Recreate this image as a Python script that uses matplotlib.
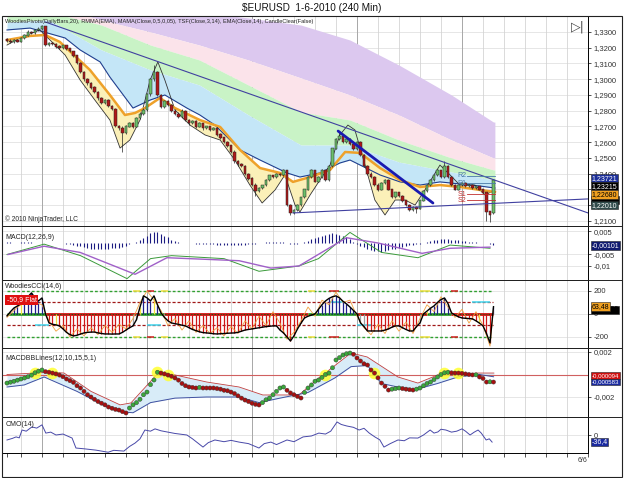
import numpy as np
import matplotlib
matplotlib.use("Agg")
import matplotlib.pyplot as plt
from matplotlib.patches import Rectangle
from matplotlib.lines import Line2D

plt.rcParams['font.family'] = ['Liberation Sans', 'DejaVu Sans']

W, H = 625, 478

# ---------------- price bars, in pips above 1.2000 ----------------
opens = [1252, 1245, 1238, 1250, 1240, 1262, 1278, 1300, 1292, 1312,
         1320, 1335, 1218, 1230, 1222, 1208, 1200, 1214, 1195, 1178,
         1150, 1102, 1045, 1000, 975, 948, 918, 880, 850, 868,
         832, 812, 702, 690, 660, 700, 722, 700, 752, 780,
         805, 905, 1000, 1048, 900, 822, 862, 838, 800, 780,
         760, 800, 742, 720, 732, 700, 722, 690, 700, 680,
         690, 650, 630, 600, 580, 540, 480, 460, 450, 400,
         370, 330, 290, 310, 330, 360, 390, 380, 400, 390,
         420, 200, 150, 170, 200, 250, 300, 380, 420, 350,
         380, 420, 360, 450, 560, 620, 640, 600, 620, 590,
         560, 600, 520, 450, 400, 380, 330, 300, 340, 360,
         300, 250, 280, 260, 230, 200, 170, 190, 180, 230,
         290, 330, 360, 390, 420, 380, 450, 380, 330, 300,
         330, 340, 320, 330, 310, 320, 300, 280, 160, 150]
closes = [1245, 1238, 1250, 1240, 1262, 1278, 1300, 1292, 1312, 1320,
          1335, 1218, 1230, 1222, 1208, 1200, 1214, 1195, 1178, 1150,
          1102, 1045, 1000, 975, 948, 918, 880, 850, 868, 832,
          812, 702, 690, 660, 700, 722, 700, 752, 780, 805,
          905, 1000, 1048, 900, 822, 862, 838, 800, 780, 760,
          800, 742, 720, 732, 700, 722, 690, 700, 680, 690,
          650, 630, 600, 580, 540, 480, 460, 450, 400, 370,
          330, 290, 310, 330, 360, 390, 380, 400, 390, 420,
          200, 150, 170, 200, 250, 300, 380, 420, 350, 380,
          420, 360, 450, 560, 620, 640, 600, 620, 590, 560,
          600, 520, 450, 400, 380, 330, 300, 340, 360, 300,
          250, 280, 260, 230, 200, 170, 190, 180, 230, 290,
          330, 360, 390, 420, 380, 450, 380, 330, 300, 330,
          340, 320, 330, 310, 320, 300, 280, 160, 140, 360]
highs = [1262, 1255, 1258, 1255, 1270, 1285, 1310, 1305, 1318, 1330,
         1345, 1340, 1238, 1235, 1230, 1215, 1220, 1218, 1200, 1182,
         1155, 1110, 1052, 1008, 985, 955, 925, 890, 875, 872,
         838, 815, 712, 700, 710, 730, 728, 760, 790, 815,
         915, 1010, 1090, 1052, 905, 870, 865, 842, 808, 790,
         810, 805, 748, 740, 738, 728, 725, 705, 705, 695,
         695, 658, 635, 608, 585, 548, 488, 468, 455, 405,
         378, 338, 318, 318, 365, 395, 395, 405, 405, 428,
         425, 205, 175, 205, 255, 305, 385, 430, 425, 385,
         430, 425, 455, 565, 630, 670, 645, 625, 625, 595,
         605, 605, 525, 455, 408, 385, 338, 345, 365, 365,
         305, 285, 285, 265, 235, 205, 195, 195, 235, 295,
         335, 365, 395, 430, 425, 480, 455, 385, 335, 335,
         345, 345, 335, 335, 320, 325, 305, 285, 165, 365]
lows = [1235, 1230, 1232, 1235, 1235, 1255, 1272, 1285, 1285, 1305,
        1315, 1210, 1212, 1215, 1200, 1190, 1195, 1188, 1170, 1142,
        1095, 1038, 990, 965, 940, 910, 870, 840, 845, 825,
        805, 695, 680, 540, 655, 695, 692, 695, 745, 775,
        800, 895, 990, 895, 815, 815, 830, 792, 772, 752,
        755, 735, 710, 715, 690, 695, 680, 685, 672, 675,
        642, 622, 592, 570, 530, 470, 450, 440, 390, 360,
        320, 260, 282, 300, 325, 355, 372, 372, 385, 385,
        195, 140, 145, 165, 195, 245, 295, 375, 345, 345,
        375, 355, 355, 445, 555, 612, 595, 592, 582, 552,
        552, 515, 445, 395, 372, 322, 292, 295, 335, 295,
        245, 245, 252, 222, 195, 165, 165, 150, 175, 225,
        285, 325, 355, 385, 375, 375, 375, 325, 295, 295,
        325, 315, 315, 305, 305, 295, 275, 100, 95, 145]

# ribbon bands (pips), read at these bars
band_bars = [0, 12, 27, 41, 55, 69, 84, 98, 112, 127, 139]
purple_top = [1757, 1662, 1503, 1452, 1427, 1389, 1344, 1249, 1090, 900, 728]
purple_bot = [1598, 1471, 1376, 1300, 1217, 1122, 1008, 900, 773, 614, 500]
pink_bot = [1452, 1427, 1344, 1217, 1122, 963, 792, 741, 614, 500, 424]
green_bot = [1364, 1376, 1186, 1059, 963, 773, 582, 582, 474, 411, 360]

ema_bars = [0, 6.6, 10.9, 15.1, 23.7, 29.4, 33.7, 36.6, 39.4, 43.7, 48, 55.1, 60.9, 66.6,
            72.3, 78, 81.7, 86.6, 92.3, 96.6, 100.9, 106.6, 112.3, 118, 123.7, 129.4, 135.1, 139.4]
ema_vals = [1249, 1275, 1281, 1237, 1059, 900, 773, 786, 817, 881, 817, 741, 697, 551,
            436, 405, 348, 379, 424, 538, 532, 436, 360, 316, 328, 316, 297, 284]

tsf_bars = [0, 3.7, 9.4, 12.3, 16.6, 20.9, 25.1, 29.4, 32.3, 35.1, 38, 40.9, 43.1, 45.1, 48,
            52.3, 56.6, 60.9, 65.1, 69.4, 72.9, 76.6, 79.4, 82.3, 83.7, 86.6, 89.4, 92.3,
            95.1, 97.4, 99.4, 102.3, 105.1, 108, 110.9, 113.7, 116.6, 119.4, 123.7, 126.6,
            129.4, 133.7, 136.6, 139.4]
tsf_vals = [1217, 1262, 1313, 1249, 1154, 995, 868, 741, 563, 614, 741, 995, 1110, 995, 805,
            709, 646, 614, 487, 328, 214, 297, 392, 201, 157, 265, 360, 455,
            646, 709, 678, 455, 233, 138, 233, 233, 201, 297, 455, 392,
            328, 328, 265, 297]

mama_bars = [0, 6.6, 16.6, 20.9, 26.6, 29.4, 36, 40.9, 45.1, 51.4, 55.1, 59.4, 66.6, 72.3,
             80, 83.7, 89.4, 95.1, 98, 100.9, 106.6, 112.3, 118, 123.7, 129.4, 135.1, 139.4]
mama_vals = [1313, 1325, 1262, 1186, 1110, 1014, 817, 868, 900, 817, 773, 709, 551, 487,
             405, 379, 405, 468, 487, 455, 392, 348, 328, 348, 335, 322, 309]

# trend lines (bar, pips)
trend_down = [(10.9, 1364), (166, 151)]
trend_low = [(81.7, 151), (166, 240)]
trend_blue = [(94.6, 671), (121.7, 214)]

pivots = {'R2': 386, 'R1': 341, 'S1': 271, 'S2': 233}

price_flags = [(372.1, '1,23721', '#1c2f9a', 'white'),
               (321.5, '1,23215', 'black', 'white'),
               (233.0, '', 'black', 'white'),
               (201.0, '1,22010', '#2f4a4a', 'white'),
               (268.0, '1,22680', '#f0a020', 'black')]

# ---------------- MACD (units of 1e-4) ----------------
macd_hist = [3, 3, 2, 2, 3, 3, 3, 3, 2, 2,
             2, 1, 1, 1, 0, -1, -2, -4, -6, -9,
             -12, -15, -18, -21, -24, -27, -28, -27, -25, -24,
             -22, -21, -20, -17, -12, -6, 0, 6, 14, 22,
             32, 42, 48, 46, 40, 32, 24, 15, 8, 3,
             1, 0, -1, -2, -3, -3, -4, -5, -6, -6,
             -7, -8, -8, -8, -9, -9, -9, -8, -7, -6,
             -5, -4, -2, 1, 3, 5, 6, 5, 4, 3,
             -2, -4, -5, -3, 0, 5, 10, 16, 22, 28,
             32, 36, 40, 42, 40, 36, 30, 24, 16, 6,
             -4, -12, -18, -24, -30, -34, -36, -38, -36, -32,
             -28, -24, -20, -16, -14, -10, -8, -6, -3, 0,
             3, 8, 12, 15, 16, 17, 16, 15, 13, 11,
             9, 7, 5, 4, 3, 2, 1, 0, -6, -10]
macd_bars = [0, 10.6, 21, 34.3, 41, 47, 62, 72, 83.4, 89, 98, 107, 117.4, 126.6, 138]
macd_vals = [-50, -5, -55, -155, -68, -55, -68, -123, -100, -68, 46, -41, -64, -9, -23]
sig_bars = [0.3, 10.6, 20.9, 36.6, 45.7, 66.3, 75.4, 83.4, 97, 106, 118.6, 126.6, 138]
sig_vals = [-50, -14, -41, -136, -64, -77, -109, -100, 23, 0, -45, -23, -18]

# ---------------- Woodies CCI ----------------
cci = [-17, 20, 52, 70, 87, 110, 150, 183, 140, 113,
       139, 0, -78, -90, -95, -104, -130, -160, -180, -191,
       -185, -175, -165, -160, -158, -157, -165, -170, -174, -174,
       -175, -174, -174, -160, -140, -120, -104, -50, 60, 157,
       140, 113, 157, 80, 9, -30, -60, -78, -85, -90,
       -98, -104, -120, -135, -145, -155, -162, -165, -168, -172,
       -174, -172, -170, -168, -166, -165, -160, -150, -140, -135,
       -130, -125, -120, -115, -110, -107, -104, -104, -140, -165,
       -200, -235, -190, -130, -80, -35, -20, -10, 0, 40,
       80, 113, 135, 150, 157, 140, 110, 87, 60, 30,
       0, -78, -110, -148, -148, -148, -148, -148, -140, -130,
       -115, -104, -104, -120, -135, -148, -148, -110, -78, 0,
       25, 50, 70, 100, 125, 139, 90, 9, -10, -25,
       -35, -38, -40, -43, -60, -80, -104, -170, -252, 63]
cci_yellow = [4, 14, 38, 42, 86, 120, 135]
cci_gray = [36, 37, 44, 45, 88, 100, 101, 102, 118, 119, 127, 128]
turbo_bars = [0, 3, 6, 8, 10, 12, 14, 16, 18, 20, 22, 24, 26, 28, 30, 32, 34, 36, 38, 40,
              42, 44, 46, 48, 50, 52, 54, 56, 58, 60, 62, 64, 66, 68, 70, 72, 74, 76, 78, 80,
              82, 84, 86, 88, 90, 92, 94, 96, 98, 100, 102, 104, 106, 108, 110, 112, 114, 116,
              118, 120, 122, 124, 126, 128, 130, 132, 134, 136, 138, 139]
turbo_vals = [-30, 60, 120, 100, 80, -60, -150, -100, -200, -130, -190, -120, -180, -100, -160,
              -90, -130, -40, 100, 200, 120, 30, -100, -40, -140, -60, -160, -100, -170, -120,
              -190, -110, -170, -60, -130, -20, -100, 20, -80, -220, -160, -60, 60, -20, 120,
              80, 190, 100, 120, -20, -120, -180, -90, -170, -60, -150, -70, -170, -40, 80,
              20, 150, 60, -30, 40, -80, 20, -100, -280, 50]
zero_segs = [(0, 11, '#2fa02f'), (11, 38, '#d01010'), (38, 45, '#2fa02f'), (45, 86, '#d01010'),
             (86, 100, '#2fa02f'), (100, 120, '#d01010'), (120, 127, '#2fa02f'), (127, 139, '#d01010')]
band200_marks = [(36, 38, '#f0e040'), (40, 42, '#d02020'), (44, 46, '#f0e040'),
                 (86, 88, '#f0e040'), (92, 95, '#d02020'), (118, 121, '#f0e040'),
                 (127, 129, '#d02020')]
band100_cyan = [(8, 12, -100), (40, 44, -100), (92, 96, 100), (100, 104, -100), (133, 138, 100)]

# ---------------- MACD BB lines (units of 1e-4) ----------------
bb_dots = [-7.6, -6.8, -6.0, -5.0, -4.0, -3.1, -2.0, -0.5, 1.5, 3.0,
           4.0, 2.5, 2.0, 1.3, 0.5, -0.5, -2.0, -4.0, -5.5, -7.0,
           -10.0, -12.0, -15.0, -18.0, -20.0, -22.0, -24.0, -25.5, -27.0, -28.9,
           -30.0, -31.0, -31.6, -33.0, -34.2, -29.8, -27.0, -25.0, -22.0, -18.0,
           -15.6, -9.0, -4.9, 2.0, 1.3, 0.5, -0.5, -1.5, -3.1, -5.0,
           -8.0, -10.0, -11.1, -11.5, -12.0, -11.5, -12.0, -12.0, -12.0, -12.0,
           -12.5, -13.0, -14.0, -14.5, -15.6, -17.0, -19.0, -21.0, -22.7, -24.0,
           -25.5, -26.5, -27.1, -25.0, -22.5, -20.9, -18.0, -15.0, -12.0, -11.1,
           -14.0, -16.4, -18.0, -19.5, -20.9, -16.0, -12.0, -9.3, -6.0, -4.9,
           -2.5, 0.0, 1.3, 6.0, 12.9, 15.0, 17.3, 18.5, 19.1, 18.0,
           14.7, 12.0, 9.5, 8.4, 4.0, 1.3, -3.0, -7.6, -10.5, -13.8,
           -13.0, -12.5, -12.0, -12.5, -13.0, -13.5, -13.8, -13.0, -12.0, -10.0,
           -8.0, -6.7, -4.5, -2.2, 0.0, 1.5, 2.0, 1.5, 1.3, 1.3,
           1.0, 0.5, 0.0, -0.4, -0.3, -2.2, -3.5, -6.7, -6.5, -6.7]
bb_glow = [8, 13, 43, 46, 91, 105, 125, 129]
bb_up_bars = [0, 12.3, 16.3, 24, 32.3, 35.4, 43.4, 48, 57.1, 66.3, 73.1, 83.4, 89.1, 98.3,
              102.9, 111.7, 117.4, 123.1, 134.6, 139.1]
bb_up_vals = [0, 2, 1.3, -15, -27, -25.3, 2, -0.4, -6.7, -11.1, -18.2, -18.2, -3.1, 19.1,
              15.6, -2.2, -7.6, -0.4, 1.3, 1.3]
bb_lo_bars = [0, 4.9, 10.6, 20, 28, 32.3, 36, 41, 48, 57, 66.3, 72, 78, 86, 93.7, 98.3,
              103, 107, 116, 123, 129, 135, 139]
bb_lo_vals = [-11.1, -9.3, -2.2, -15, -28, -33, -34, -25, -21, -20, -20, -25, -21, -16, -3,
              7, 8, -8, -14, -8, -2, 0, -2]

# ---------------- CMO ----------------
cmo_bars = [0, 1.5, 2.6, 3.5, 4.3, 5.5, 7.1, 8.5, 10, 11.1, 12.5, 14, 16, 18.6, 19.7, 22,
            25.4, 27, 28.9, 30.5, 33.4, 35, 36.6, 38, 39.4, 41, 42.3, 44, 45.7, 48, 51.4, 53,
            56, 57.5, 59.4, 62, 64, 66.3, 69, 72, 73.5, 75.4, 77, 80, 82, 84.6, 87, 89.1, 91,
            92.5, 94.3, 95.5, 97.1, 99, 100.6, 102, 103.5, 105.1, 106.5, 107.7, 109.5, 111.7,
            113.5, 115, 117.4, 119, 120.9, 122, 123.1, 124, 125.4, 127, 128.5, 130, 131, 132.3,
            133.5, 134.6, 135.5, 136.9, 137.8, 138.6]
cmo_vals = [-26, -18, -10, -15, 26, 20, 42, 36, 53, 10, 15, 0, 5, -16, -68, -72,
            -79, -84, -90, -80, -84, -60, -42, -20, 26, 20, 32, 22, 16, 8, 0, -20,
            -63, -40, -26, -35, -28, -37, -45, -68, -45, -37, -50, -26, -35, -10, -5, 10, 5,
            20, 68, 55, 47, 40, 26, 35, 10, -10, -25, -63, -45, -26,
            -30, -15, -16, 0, 26, 10, 16, 30, 26, 15, 20, 32, 20, 0,
            15, 26, 10, -26, -20, -37]

day_lines = [4 + 6 * k for k in range(28)]
week_lines = [10, 40, 70, 100, 130]

XL = (-1.14, 166)


def rect(top, bot):
    return [3 / W, 1 - bot / H, 585 / W, (bot - top) / H]


def style(ax, ticks, labels):
    ax.set_xlim(*XL)
    ax.set_xticks([])
    ax.yaxis.tick_right()
    ax.set_yticks(ticks)
    ax.set_yticklabels(labels)
    ax.tick_params(axis='y', labelsize=5.5, length=2.5, width=0.6, pad=1.5, colors='#333333')
    for t in ticks:
        ax.axhline(t, color='#e2e2e2', lw=0.6, zorder=0)
    for d in day_lines:
        ax.axvline(d, color='#d4d4d4', lw=0.6, zorder=0)
    for d in week_lines:
        ax.axvline(d, color='#a8a8a8', lw=0.7, zorder=0)
    for s in ax.spines.values():
        s.set_linewidth(0.7)
    ax.spines['left'].set_visible(False)


def flag(ax, val, text, fc, tc, size=5.0):
    ax.annotate(text if text else '0000000', xy=(1, val), xycoords=('axes fraction', 'data'),
                xytext=(2.5, 0), textcoords='offset points', va='center', ha='left',
                fontsize=size, color=tc if text else fc,
                bbox=dict(boxstyle='square,pad=0.1', fc=fc, ec='#222222', lw=0.4),
                annotation_clip=False, zorder=10)


fig = plt.figure(figsize=(W / 100, H / 100), dpi=100)

# ================= price panel =================
ax = fig.add_axes(rect(16, 226))
ax.set_ylim(68, 1401.6)
pt = list(range(100, 1301, 100))
style(ax, pt, ['1,%d' % (2000 + t) for t in pt])

xs = np.linspace(0, 139.4, 600)
p0 = np.interp(xs, band_bars, purple_top)
p1 = np.interp(xs, band_bars, purple_bot)
p2 = np.interp(xs, band_bars, pink_bot)
p3 = np.interp(xs, band_bars, green_bot)
p4 = np.interp(xs, mama_bars, mama_vals)
ax.fill_between(xs, p1, p0, color='#dcc8ef', lw=0, zorder=1)
ax.fill_between(xs, p2, p1, color='#fbe3ea', lw=0, zorder=1)
ax.fill_between(xs, p3, p2, color='#c9f3c6', lw=0, zorder=1)
ax.fill_between(xs, p4, p3, color='#c4e6f7', lw=0, zorder=1)

ema_i = np.interp(xs, ema_bars, ema_vals)
tsf_i = np.interp(xs, tsf_bars, tsf_vals)
ax.fill_between(xs, tsf_i, ema_i, where=tsf_i < ema_i, color='#fbf0b8', lw=0, zorder=1.5)

ax.plot(mama_bars, mama_vals, color='#203f8f', lw=0.8, zorder=3)
ax.plot(tsf_bars, tsf_vals, color='#333333', lw=0.6, zorder=3)
ax.plot(ema_bars, ema_vals, color='#eea12a', lw=1.8, zorder=3)

idx = np.arange(len(closes))
o = np.array(opens)
c = np.array(closes)
up = c >= o
ax.vlines(idx, lows, highs, color='#222222', lw=0.5, zorder=4)
ax.bar(idx, np.abs(c - o) + 2, bottom=np.minimum(o, c) - 1, width=0.7,
       color=np.where(up, '#6cc06a', '#b01818'), edgecolor='#222222', lw=0.35, zorder=5)

for (a, b), col, lw in [(trend_down, '#4040a0', 0.8), (trend_low, '#4040a0', 0.8),
                        (trend_blue, '#1a1ab0', 2.0)]:
    ax.plot([a[0], b[0]], [a[1], b[1]], color=col, lw=lw, zorder=6, solid_capstyle='round')

for name, v in pivots.items():
    col = '#4a7aa8' if name[0] == 'R' else '#c03030'
    ax.plot([131.5, 139.5], [v, v], color=col, lw=0.6, zorder=6)
    ax.text(131.2, v, name, fontsize=5, color=col, ha='right', va='center', zorder=7)

for v, t, fc, tc in price_flags:
    flag(ax, v, t, fc, tc)

ax.text(0.004, 0.985, 'WoodiesPivots(DailyBars,20), RMMA(EMA), MAMA(Close,0,5,0,05), '
        'TSF(Close,3,14), EMA(Close,14), CandleClear(False)', transform=ax.transAxes,
        fontsize=4.1, va='top', ha='left', color='#222222', zorder=8)
ax.text(0.004, 0.015, '\u00a9 2010 NinjaTrader, LLC', transform=ax.transAxes,
        fontsize=4.8, va='bottom', ha='left', color='#222222', zorder=8)
ax.text(0.983, 0.95, '\u25b7|', transform=ax.transAxes, fontsize=9, ha='center', va='center',
        color='#444444', family='DejaVu Sans')

# ================= MACD =================
ax = fig.add_axes(rect(226, 280))
ax.set_ylim(-160.9, 73.9)
style(ax, [50, -50, -100], ['0,005', '-0,005', '-0,01'])
ax.vlines(idx, 0, macd_hist, color='#1a1a80', lw=0.8, zorder=3)
ax.plot(macd_bars, macd_vals, color='#3a9a3a', lw=0.7, zorder=4)
ax.plot(sig_bars, sig_vals, color='#a060c8', lw=1.0, zorder=4)
flag(ax, -10.1, '-0,00101', '#101a70', 'white')
ax.text(0.004, 0.86, 'MACD(12,26,9)', transform=ax.transAxes, fontsize=5, va='top', color='#222222')

# ================= Woodies CCI =================
ax = fig.add_axes(rect(280, 348))
ax.set_ylim(-296, 295)
style(ax, [200, 0, -200], ['200', '0', '-200'])
cols = []
for i, v in enumerate(cci):
    if i in cci_yellow:
        cols.append('#f0e040')
    elif i in cci_gray:
        cols.append('#a0a0a0')
    elif v > 0:
        cols.append('#20208a')
    else:
        cols.append('#d01818')
ax.vlines(idx, 0, cci, colors=cols, lw=0.9, zorder=3)
for lev in (200, -200):
    ax.hlines(lev, 0, 139, color='#30a030', lw=1.0, linestyles=(0, (2, 1.5)), zorder=2)
    for a, b, col in band200_marks:
        ax.hlines(lev, a, b, color=col, lw=1.1, zorder=2.2)
for lev in (100, -100):
    ax.hlines(lev, 0, 139, color='#a01818', lw=0.9, linestyles=(0, (2.5, 1.5)), zorder=2)
for a, b, lev in band100_cyan:
    ax.hlines(lev, a, b, color='#40d8f0', lw=1.1, zorder=2.2)
for a, b, col in zero_segs:
    ax.hlines(0, a, b, color=col, lw=2.0, zorder=2)
ax.hlines(0, 0, 139, color='#106010', lw=0.7, linestyles=(0, (1.5, 1.5)), zorder=2.5)
ax.plot(turbo_bars, turbo_vals, color='#f0a040', lw=0.6, zorder=4)
ax.plot(idx, cci, color='black', lw=1.0, zorder=5)
flag(ax, 35, '', 'black', 'white')
flag(ax, 63.48, '63,48', '#f0a020', 'black')
ax.text(0.004, 0.95, 'WoodiesCCI(14,6)', transform=ax.transAxes, fontsize=5, va='top',
        color='#222222', zorder=8)
ax.text(0.006, 0.71, '-50,9 Flat', transform=ax.transAxes, fontsize=5, va='center',
        color='white', zorder=9,
        bbox=dict(boxstyle='square,pad=0.2', fc='#e01010', ec='none'))

# ================= MACD BB lines =================
ax = fig.add_axes(rect(348, 417))
ax.set_ylim(-37.78, 23.56)
style(ax, [20, -20], ['0,002', '-0,002'])
xb = np.linspace(0, 139.1, 500)
ub = np.interp(xb, bb_up_bars, bb_up_vals)
lb = np.interp(xb, bb_lo_bars, bb_lo_vals)
ax.fill_between(xb, lb, ub, color='#d8ecf8', lw=0, zorder=1)
ax.axhline(0, color='#d06060', lw=0.8, zorder=2)
ax.plot(bb_up_bars, bb_up_vals, color='#c04040', lw=0.6, zorder=3)
ax.plot(bb_lo_bars, bb_lo_vals, color='#4050a0', lw=0.7, zorder=3)
d = np.array(bb_dots)
rising = np.r_[True, d[1:] > d[:-1]]
ax.scatter([idx[i] for i in bb_glow], [d[i] for i in bb_glow], s=70, color='#ffff30',
           alpha=0.85, lw=0, zorder=4)
ax.scatter(idx, d, s=9, c=np.where(rising, '#3aa83a', '#a81010'), edgecolors='#333333',
           linewidths=0.3, zorder=5)
flag(ax, -0.94, '-0,000094', '#d01010', 'white', 4.4)
flag(ax, -6.6, '-0,000583', '#1a2aa0', 'white', 4.4)
ax.text(0.004, 0.9, 'MACDBBLines(12,10,15,5,1)', transform=ax.transAxes, fontsize=5, va='top',
        color='#222222')

# ================= CMO =================
ax = fig.add_axes(rect(417, 453))
ax.set_ylim(-94, 94)
style(ax, [0], ['0'])
ax.plot(cmo_bars, cmo_vals, color='#4848a8', lw=0.7, zorder=3)
flag(ax, -36.4, '-36,4', '#1a2aa0', 'white')
ax.text(0.004, 0.88, 'CMO(14)', transform=ax.transAxes, fontsize=5, va='top', color='#222222')
ax.set_xticks([0] + day_lines)
ax.set_xticklabels([])
ax.tick_params(axis='x', length=3, width=0.6, direction='out', colors='#333333')

# frame, separators, title
fig.add_artist(Rectangle((2 / W, 1 / H), 620 / W, 461 / H, transform=fig.transFigure,
                         fill=False, lw=0.8, ec='#222222'))
for yy in (226, 280, 348, 417):
    fig.add_artist(Line2D([2 / W, 622 / W], [1 - yy / H, 1 - yy / H], transform=fig.transFigure,
                          color='#222222', lw=0.7))
fig.text(312 / W, 1 - 8 / H, r'\$EURUSD  1-6-2010 (240 Min)', ha='center', va='center',
         fontsize=7.2, color='#111111')
fig.text(583 / W, 1 - 461 / H, '6/6', ha='center', va='center', fontsize=5, color='#333333')

fig.savefig('out.png', dpi=100)
